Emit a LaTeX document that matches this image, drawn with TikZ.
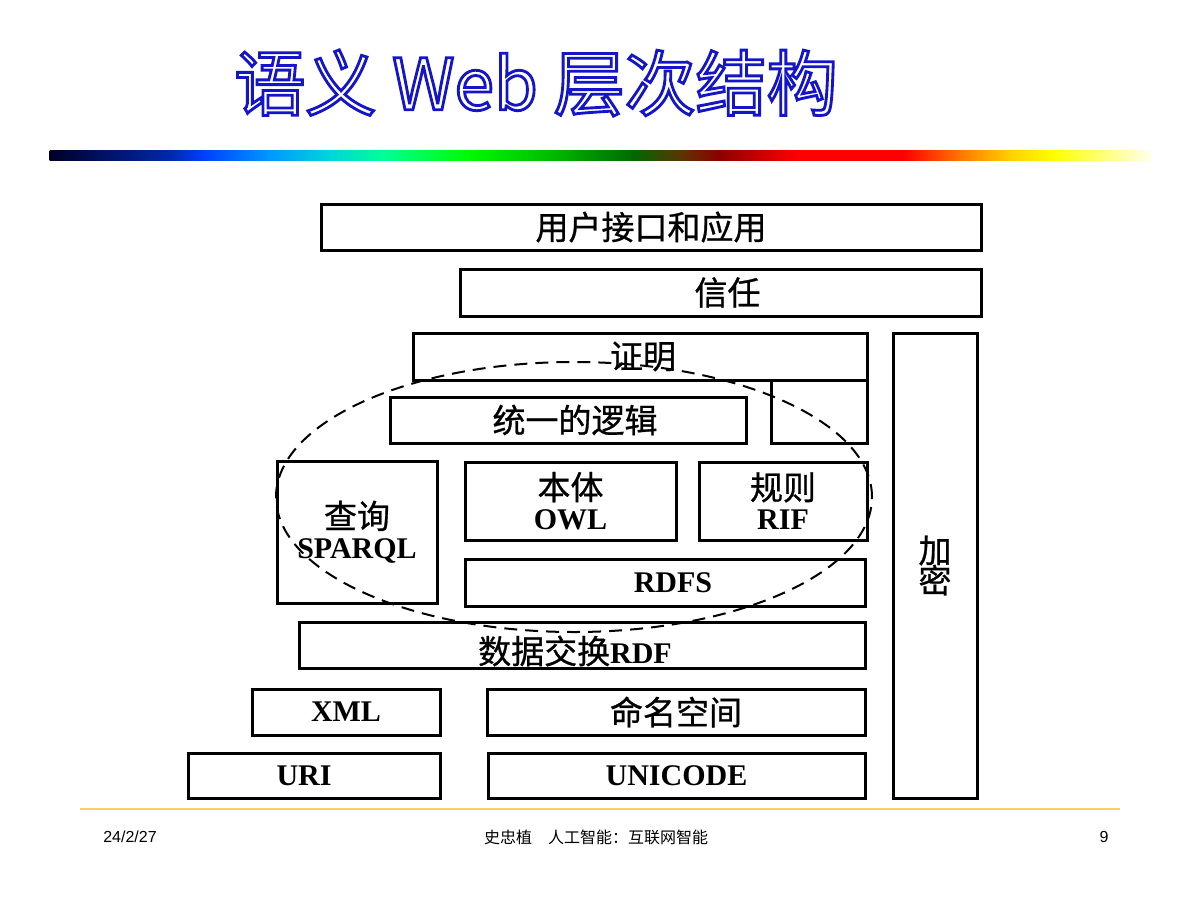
\documentclass[tikz,border=0pt]{standalone}
\usepackage{fontspec}
\usetikzlibrary{shapes.geometric}
\setmainfont{Liberation Serif}
\newfontfamily\cjk[FakeBold=0.8]{Noto Sans CJK SC}
\newfontfamily\cjkplain{Noto Sans CJK SC}
\newfontfamily\cjktitle[FakeBold=4]{Noto Sans CJK SC}
\newfontfamily\footsans{Liberation Sans}
\newcommand{\zhtext}[1]{{\cjk\mdseries\fontsize{33}{30}\selectfont #1}}
\definecolor{titleblue}{RGB}{20,20,200}
\definecolor{footorange}{RGB}{255,204,102}
\definecolor{ga}{RGB}{0,0,40}
\definecolor{gb}{RGB}{0,40,170}
\definecolor{gc}{RGB}{0,64,255}
\definecolor{gd}{RGB}{0,150,255}
\definecolor{ge}{RGB}{0,210,220}
\definecolor{gf}{RGB}{0,255,150}
\definecolor{gg}{RGB}{0,250,0}
\definecolor{gh}{RGB}{0,185,0}
\definecolor{gi}{RGB}{0,105,0}
\definecolor{gj}{RGB}{95,50,0}
\definecolor{gk}{RGB}{140,0,0}
\definecolor{gl}{RGB}{255,0,0}
\definecolor{gm}{RGB}{255,0,0}
\definecolor{gn}{RGB}{255,120,0}
\definecolor{go}{RGB}{255,210,0}
\definecolor{gp}{RGB}{255,255,0}
\definecolor{gq}{RGB}{255,255,235}
\tikzset{
  layer/.style={draw=black, line width=3pt, inner sep=0pt, align=center,
    font=\bfseries\fontsize{30}{30}\selectfont,
    execute at begin node={\lineskiplimit=-50pt}},
  scopering/.style={draw=black, line width=2pt, dash pattern=on 13pt off 8pt},
  foottext/.style={inner sep=0pt, font=\footsans\fontsize{16}{16}\selectfont},
}
\begin{document}
\begin{tikzpicture}[x=1pt,y=-1pt]
\useasboundingbox (0,0) rectangle (1200,900);
\fill[white] (0,0) rectangle (1200,900);
% title
\node[inner sep=0pt, text=titleblue, font=\cjktitle\fontsize{71}{71}\selectfont] (title) at (536,83) {\special{pdf:literal direct 1 1 1 rg}语义 Web 层次结构\special{pdf:literal direct 0.0784 0.0784 0.7843 rg}};
% gradient bar
\foreach \xa/\xb/\ca/\cb in {50/170/ga/gb,170/204/gb/gc,204/268/gc/gd,268/326/gd/ge,326/383/ge/gf,383/469/gf/gg,469/554/gg/gh,554/633/gh/gi,633/683/gi/gj,683/719/gj/gk,719/797/gk/gl,797/904/gl/gm,904/961/gm/gn,961/1011/gn/go,1011/1054/go/gp,1054/1150/gp/gq}
  \shade[left color=\ca, right color=\cb] (\xa-0.5,150) rectangle (\xb+0.5,160);
% layers
\node[layer, minimum width=660pt, minimum height=46pt] (ui) at (651,227) {\zhtext{用户接口和应用}};
\node[layer, minimum width=521pt, minimum height=47pt] (trust) at (720.5,292.5) {\hspace{14pt}\zhtext{信任}};
\node[layer, minimum width=454pt, minimum height=47pt] (proof) at (640,356.5) {\hspace{6pt}\zhtext{证明}};
\node[layer, minimum width=96pt, minimum height=63pt] (gap) at (819,411.5) {};
\node[layer, minimum width=356pt, minimum height=46pt] (logic) at (568,420) {\hspace{14pt}\zhtext{统一的逻辑}};
\node[layer, minimum width=160pt, minimum height=142pt] (query) at (357,532) {\zhtext{查询}\\SPARQL\hspace{8pt}};
\node[layer, minimum width=211pt, minimum height=78pt] (owl) at (570.5,501) {\zhtext{本体}\\OWL};
\node[layer, minimum width=168pt, minimum height=78pt] (rif) at (783,501) {\zhtext{规则}\\RIF};
\node[layer, minimum width=400pt, minimum height=47pt] (rdfs) at (665,582.5) {\hspace{16pt}RDFS};
\node[layer, minimum width=566pt, minimum height=46pt] (rdf) at (582,645) {\raisebox{-6pt}[\height][\depth]{\zhtext{数据交换}RDF}\hspace{14pt}};
\node[layer, minimum width=188pt, minimum height=46pt] (xml) at (346,712) {XML};
\node[layer, minimum width=378pt, minimum height=46pt] (ns) at (676,712) {\zhtext{命名空间}};
\node[layer, minimum width=252pt, minimum height=45pt] (uri) at (314,775.5) {URI\hspace{20pt}};
\node[layer, minimum width=377pt, minimum height=45pt] (unicode) at (676.5,775.5) {UNICODE};
\node[layer, minimum width=84pt, minimum height=465pt] (crypto) at (935,565.5) {\zhtext{加}\\\zhtext{密}};
% dashed scope
\node[scopering, ellipse, minimum width=596pt, minimum height=270pt, inner sep=0pt] (scope) at (574,497) {};
% footer
\draw[footorange, line width=2.5pt] (80,809) -- (1120,809);
\node[foottext] (date) at (130,837) {24/2/27};
\node[inner sep=0pt, font=\cjkplain\fontsize{16}{16}\selectfont] (author) at (596,837) {史忠植　人工智能：互联网智能};
\node[foottext] (page) at (1104,837) {9};
\end{tikzpicture}
\end{document}
